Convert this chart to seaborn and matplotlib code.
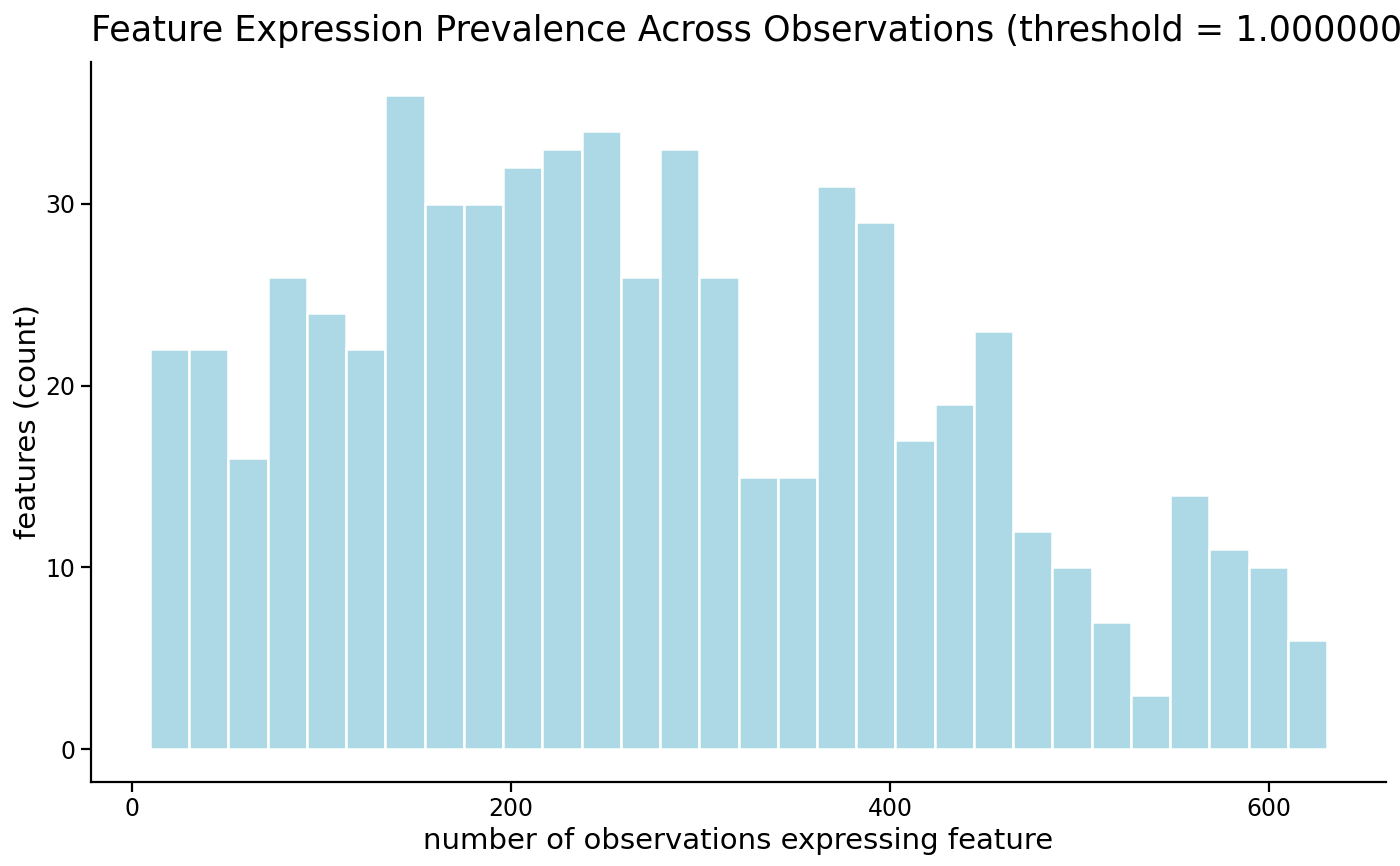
import numpy as np
import pandas as pd
import matplotlib
matplotlib.use("Agg")
import matplotlib.pyplot as plt
import seaborn as sns

# Data (30 bins)
bin_start = 9.5
bin_width = 20.706
counts = [22, 22, 16, 26, 24, 22, 36, 30, 30, 32, 33, 34, 26, 33, 26,
          15, 15, 31, 29, 17, 19, 23, 12, 10, 7, 3, 14, 11, 10, 6]
x_ticks = [0, 200, 400, 600]
y_ticks = [0, 10, 20, 30]
title = "Feature Expression Prevalence Across Observations (threshold = 1.000000)"
xlabel = "number of observations expressing feature"
ylabel = "features (count)"

edges = bin_start + bin_width * np.arange(len(counts) + 1)
centers = (edges[:-1] + edges[1:]) / 2
df = pd.DataFrame({"x": centers, "w": counts})

sns.set_theme(style="ticks")
plt.rcParams['font.family'] = ['DejaVu Sans']

fig = plt.figure(figsize=(14, 8.66), dpi=100)
ax = fig.add_axes([91/1400, 84/866, (1386-91)/1400, (782-62)/866])

sns.histplot(data=df, x="x", weights="w", bins=edges.tolist(), color="#ADD8E6",
             edgecolor="white", linewidth=1.8, alpha=1, ax=ax)

lo, hi = edges[0], edges[-1]
pad = (hi - lo) * 0.05
ax.set_xlim(lo - pad, hi + pad)
ymax = max(counts)
ax.set_ylim(-ymax * 0.05, ymax * 1.05)
ax.set_xticks(x_ticks)
ax.set_yticks(y_ticks)

for s in ["top", "right"]:
    ax.spines[s].set_visible(False)
for s in ["left", "bottom"]:
    ax.spines[s].set_linewidth(1.6)
    ax.spines[s].set_color("black")
ax.tick_params(axis="both", length=7, width=1.6, color="black",
               labelsize=17, labelcolor="black", pad=4)

ax.set_xlabel(xlabel, fontsize=21, color="black", labelpad=4)
ax.set_ylabel(ylabel, fontsize=21, color="black", labelpad=3)

fig.text(91/1400, 1 - 41/866, title, fontsize=25.2, color="black",
         ha="left", va="baseline")

fig.savefig("out.png", dpi=100)
